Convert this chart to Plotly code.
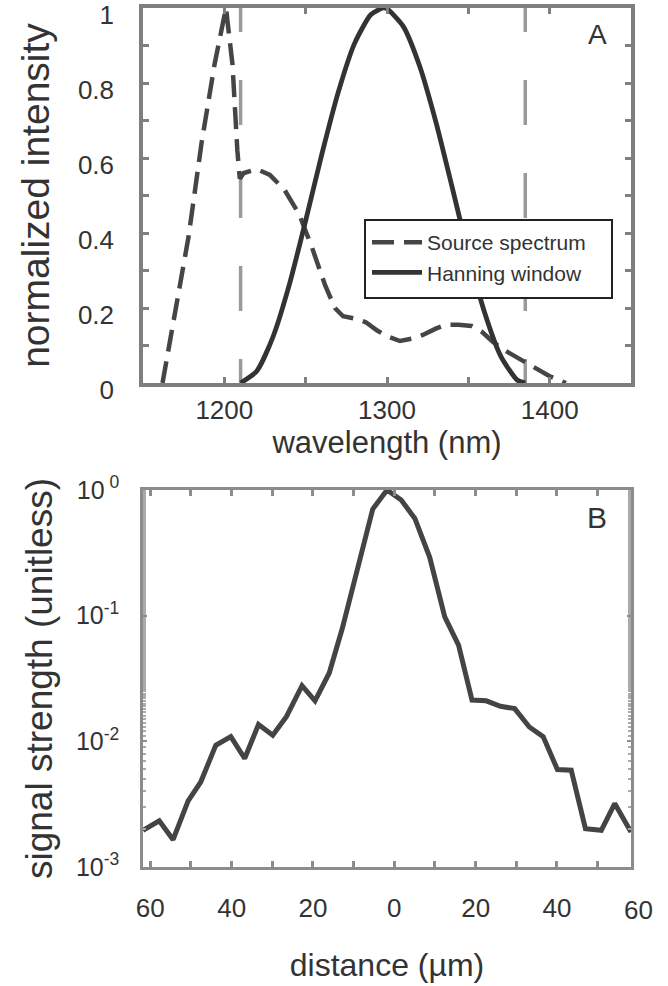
import plotly.graph_objects as go

# ---- Panel A data ----
spec_nm = [1162, 1170, 1178, 1186, 1194, 1201, 1205, 1208, 1209.5, 1212, 1220, 1228,
           1237, 1246, 1254, 1262, 1268, 1273, 1280, 1287, 1294, 1300, 1308, 1315,
           1322, 1330, 1336, 1344, 1352, 1358, 1365, 1372, 1380, 1386, 1393, 1400, 1410]
spec_val = [0.0, 0.2, 0.39, 0.64, 0.85, 1.0, 0.85, 0.62, 0.545, 0.56, 0.57, 0.555,
            0.515, 0.45, 0.36, 0.26, 0.2, 0.178, 0.172, 0.162, 0.14, 0.125, 0.112, 0.118,
            0.128, 0.145, 0.155, 0.155, 0.152, 0.138, 0.11, 0.088, 0.068, 0.054, 0.035, 0.018, 0.0]

hann_nm = [1210, 1220, 1230, 1240, 1250, 1260, 1270, 1280, 1290, 1297.5, 1300, 1310,
           1320, 1330, 1340, 1350, 1360, 1370, 1380, 1385]
hann_val = [0.0, 0.032, 0.124, 0.263, 0.433, 0.611, 0.775, 0.905, 0.982, 1.0, 0.998, 0.951,
            0.846, 0.697, 0.523, 0.345, 0.188, 0.071, 0.008, 0.0]

window_edges = [1210, 1385]
window_span = [1.056, -0.1]

# ---- Panel B data ----
dist_um = [-61.8, -57.8, -54.4, -50.7, -47.6, -43.9, -40.2, -36.8, -33.4, -29.9, -26.5,
           -22.7, -19.5, -16.0, -12.8, -9.2, -5.3, -1.8, 1.7, 5.05, 8.7, 12.4, 15.8,
           19.1, 22.6, 26.1, 29.6, 33.2, 36.6, 40.1, 43.5, 47.0, 50.9, 54.2, 58.2]
signal = [1.96e-3, 2.33e-3, 1.65e-3, 3.36e-3, 4.75e-3, 9.3e-3, 1.09e-2, 7.3e-3, 1.36e-2,
          1.12e-2, 1.58e-2, 2.77e-2, 2.1e-2, 3.5e-2, 7.9e-2, 0.217, 0.706, 1.0, 0.832,
          0.594, 0.291, 0.098, 0.0583, 0.0213, 0.021, 0.019, 0.0182, 0.013, 0.0109,
          5.97e-3, 5.89e-3, 2.02e-3, 1.96e-3, 3.2e-3, 1.9e-3]

dist_range = [-61.8, 58.2]
dist_ticks = [-60, -40, -20, 0, 20, 40, 60]
dist_ticktext = ["60", "40", "20", "0", "20", "40", "60"]
log_ticks = [1e-3, 1e-2, 1e-1, 1]
log_ticktext = ["10<sup>-3</sup>", "10<sup>-2</sup>", "10<sup>-1</sup>", "10<sup> 0</sup>"]

FONT = "Liberation Sans, Arial, Helvetica, sans-serif"
TXT = "#333333"
FRAME_A = "#7f7f7f"
FRAME_B = "#8c8c8c"

W, H = 668, 986

fig = go.Figure()

for xe in window_edges:
    fig.add_trace(go.Scatter(x=[xe, xe], y=window_span, mode="lines",
                             line=dict(color="#9a9a9a", width=3.5, dash="45px,48px"),
                             showlegend=False, hoverinfo="skip", xaxis="x", yaxis="y"))

fig.add_trace(go.Scatter(x=spec_nm, y=spec_val, mode="lines", name="Source spectrum",
                         line=dict(color="#454545", width=4.5, dash="22px,10px"),
                         xaxis="x", yaxis="y"))
fig.add_trace(go.Scatter(x=hann_nm, y=hann_val, mode="lines", name="Hanning window",
                         line=dict(color="#333333", width=4.8, shape="spline", smoothing=0.6),
                         xaxis="x", yaxis="y"))

fig.add_trace(go.Scatter(x=dist_um, y=signal, mode="lines", showlegend=False,
                         line=dict(color="#444444", width=5),
                         xaxis="x2", yaxis="y2"))

xdom = [143 / W, 631 / W]
ydomA = [1 - 383 / H, 1 - 8 / H]
ydomB = [1 - 867 / H, 1 - 490 / H]

common_tick = dict(family=FONT, size=26, color=TXT)

fig.update_layout(
    width=W, height=H,
    margin=dict(l=0, r=0, t=0, b=0, autoexpand=False),
    paper_bgcolor="white", plot_bgcolor="white",
    font=dict(family=FONT, color=TXT),
    xaxis=dict(domain=xdom, anchor="y", range=[1150, 1450], automargin=False,
               tick0=1200, dtick=100, ticks="inside", ticklen=6, tickwidth=2.5,
               tickcolor=FRAME_A, showline=True, linecolor=FRAME_A, linewidth=3.5,
               mirror="ticks", showgrid=False, zeroline=False, ticklabeloverflow="allow",
               minor=dict(dtick=50, tick0=1150, ticks="inside", ticklen=6, tickwidth=2.5,
                          tickcolor=FRAME_A, showgrid=False),
               tickfont=common_tick, ticklabelstandoff=1,
               title=dict(text="wavelength (nm)", font=dict(family=FONT, size=31, color=TXT),
                          standoff=2)),
    yaxis=dict(domain=ydomA, anchor="x", range=[0, 1], automargin=False,
               tick0=0, dtick=0.2, ticks="inside", ticklen=6, tickwidth=2.5,
               tickcolor=FRAME_A, showline=True, linecolor=FRAME_A, linewidth=3.5,
               mirror="ticks", showgrid=False, zeroline=False, ticklabeloverflow="allow",
               minor=dict(dtick=0.1, ticks="inside", ticklen=6, tickwidth=2.5,
                          tickcolor=FRAME_A, showgrid=False),
               tickfont=common_tick, ticklabelstandoff=20, ticklabelshift=7,
               title=dict(text="normalized intensity", font=dict(family=FONT, size=39, color=TXT),
                          standoff=17)),
    xaxis2=dict(domain=xdom, anchor="y2", range=dist_range, automargin=False,
                tickvals=dist_ticks, ticktext=dist_ticktext, ticklabeloverflow="allow",
                ticks="inside", ticklen=6, tickwidth=2.5, tickcolor=FRAME_B,
                showline=True, linecolor=FRAME_B, linewidth=2.5, mirror="ticks",
                showgrid=False, zeroline=False,
                minor=dict(dtick=10, tick0=0, ticks="inside", ticklen=6, tickwidth=2.5,
                           tickcolor=FRAME_B, showgrid=False),
                tickfont=common_tick, ticklabelstandoff=16,
                title=dict(text="distance (µm)", font=dict(family=FONT, size=32, color=TXT),
                           standoff=32)),
    yaxis2=dict(domain=ydomB, anchor="x2", type="log", range=[-3, 0], automargin=False,
                tickvals=log_ticks, ticktext=log_ticktext, ticklabeloverflow="allow",
                ticks="inside", ticklen=4, tickwidth=2, tickcolor=FRAME_B,
                showline=True, linecolor=FRAME_B, linewidth=2.5, mirror="ticks",
                showgrid=False, zeroline=False,
                minor=dict(ticks="inside", ticklen=3, tickwidth=2, tickcolor="#aaaaaa",
                           showgrid=False),
                tickfont=dict(family=FONT, size=25, color=TXT), ticklabelstandoff=16,
                title=dict(text="signal strength (unitless)",
                           font=dict(family=FONT, size=37, color=TXT), standoff=12)),
    legend=dict(x=367 / W, y=1 - 222 / H, xanchor="left", yanchor="top",
                borderwidth=0, bgcolor="rgba(0,0,0,0)", itemwidth=50,
                font=dict(family=FONT, size=21, color=TXT), tracegroupgap=0),
    showlegend=True,
)

# legend frame (opaque white box with dark border)
fig.add_shape(type="rect", xref="paper", yref="paper",
              x0=365 / W, x1=612 / W, y0=1 - 298 / H, y1=1 - 220 / H,
              line=dict(color="#222222", width=2), fillcolor="white", layer="above")

fig.add_annotation(x=0.955, y=0.975, xref="x domain", yref="y domain", text="A",
                   showarrow=False, xanchor="right", yanchor="top",
                   font=dict(family=FONT, size=28, color=TXT))
fig.add_annotation(x=0.955, y=0.975, xref="x2 domain", yref="y2 domain", text="B",
                   showarrow=False, xanchor="right", yanchor="top",
                   font=dict(family=FONT, size=30, color=TXT))
# right-most distance label sits just past the axis end
fig.add_annotation(x=(dist_ticks[-1] - dist_range[0]) / (dist_range[1] - dist_range[0]),
                   y=0, xref="x2 domain", yref="y2 domain",
                   text=dist_ticktext[-1], showarrow=False, xanchor="center", yanchor="top",
                   yshift=-26, font=common_tick)

fig.write_html("out.html", config={"displayModeBar": False},
               post_script="document.body.style.margin='0';")
